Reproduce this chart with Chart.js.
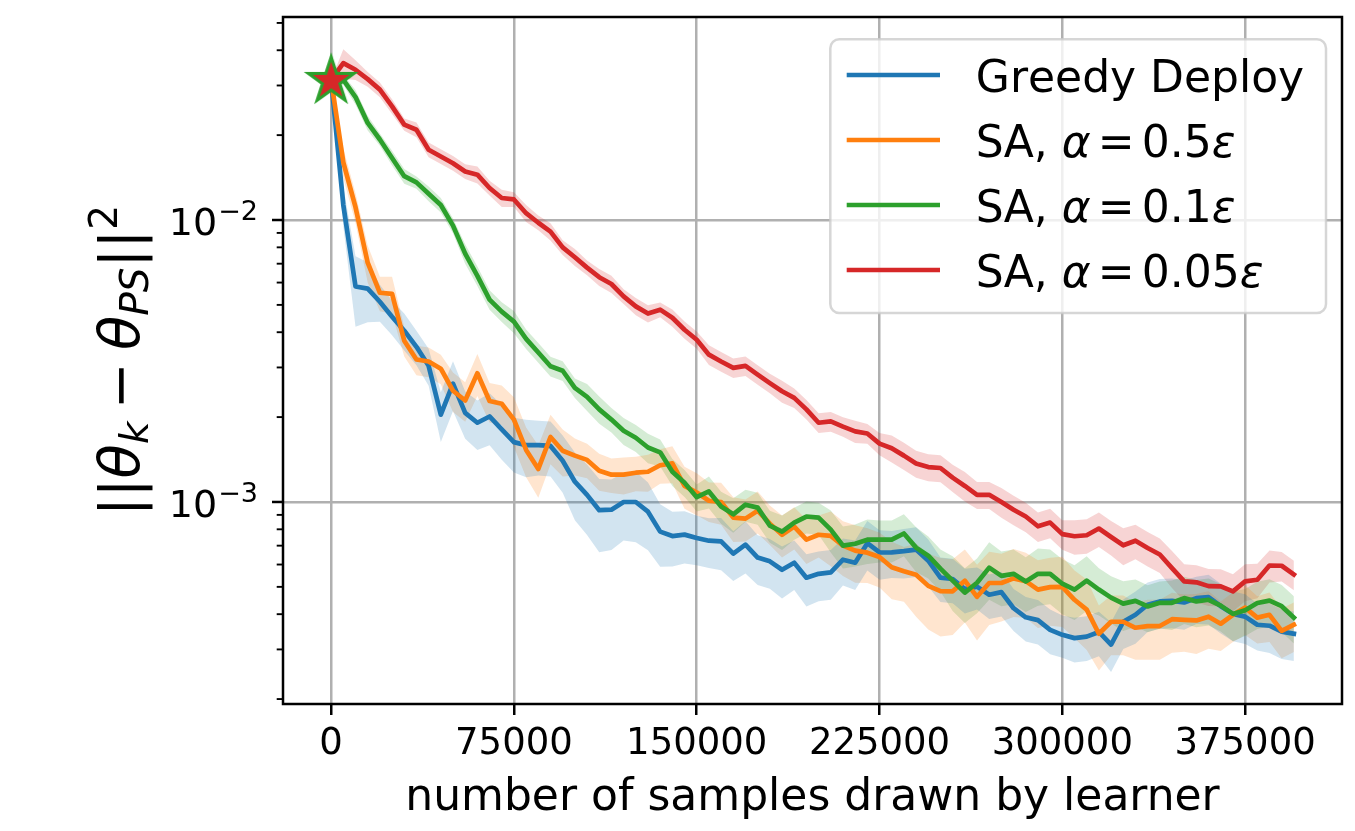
<!DOCTYPE html>
<html><head><meta charset="utf-8">
<script src="https://cdn.jsdelivr.net/npm/chart.js@4.4.1/dist/chart.umd.min.js"></script>
<style>html,body{margin:0;padding:0;background:#fff;}canvas{display:block;}</style>
</head><body>
<canvas id="c" width="1355" height="831"></canvas>
<script>
// ---------------- data ----------------
const samples = [0,5000,10000,15000,20000,25000,30000,35000,40000,45000,
 50000,55000,60000,65000,70000,75000,80000,85000,90000,95000,
 100000,105000,110000,115000,120000,125000,130000,135000,140000,145000,
 150000,155000,160000,165000,170000,175000,180000,185000,190000,195000,
 200000,205000,210000,215000,220000,225000,230000,235000,240000,245000,
 250000,255000,260000,265000,270000,275000,280000,285000,290000,295000,
 300000,305000,310000,315000,320000,325000,330000,335000,340000,345000,
 350000,355000,360000,365000,370000,375000,380000,385000,390000,395000];

const greedyDeploy = [0.0314,0.0113,0.00581,0.00571,0.00513,0.00454,0.00405,0.00355,0.00304,0.00204,
 0.00263,0.00207,0.00191,0.00201,0.00181,0.00163,0.00159,0.00159,0.00158,0.00140,
 0.00118,0.00106,0.000935,0.000939,0.00100,0.00100,0.000924,0.000785,0.000757,0.000766,
 0.000745,0.000729,0.000725,0.000656,0.000706,0.000635,0.000616,0.000575,0.000609,0.000539,
 0.000556,0.000563,0.000624,0.000609,0.000714,0.000662,0.000663,0.000669,0.000678,0.000619,
 0.000539,0.000533,0.000491,0.000501,0.000469,0.000479,0.000420,0.000390,0.000381,0.000352,
 0.000338,0.000329,0.000333,0.000346,0.000312,0.000376,0.000398,0.000432,0.000444,0.000446,
 0.000440,0.000456,0.000460,0.000427,0.000401,0.000392,0.000367,0.000364,0.000347,0.000341];

const sa05 = [0.0314,0.0160,0.0111,0.00706,0.00552,0.00547,0.00373,0.00320,0.00315,0.00297,
 0.00248,0.00229,0.00286,0.00228,0.00223,0.00196,0.00153,0.00131,0.00170,0.00152,
 0.00146,0.00141,0.00129,0.00125,0.00125,0.00127,0.00128,0.00135,0.00137,0.00114,
 0.00108,0.00101,0.00100,0.000880,0.000873,0.000931,0.000838,0.000765,0.000818,0.000735,
 0.000765,0.000758,0.000700,0.000672,0.000661,0.000638,0.000587,0.000568,0.000552,0.000504,
 0.000483,0.000482,0.000526,0.000461,0.000516,0.000516,0.000536,0.000524,0.000489,0.000499,
 0.000500,0.000450,0.000415,0.000341,0.000376,0.000376,0.000358,0.000363,0.000363,0.000384,
 0.000382,0.000380,0.000392,0.000370,0.000398,0.000422,0.000389,0.000398,0.000349,0.000367];

const sa01 = [0.0314,0.0314,0.0273,0.0221,0.0193,0.0166,0.0143,0.0136,0.0124,0.0113,
 0.00955,0.00760,0.00634,0.00522,0.00473,0.00436,0.00379,0.00339,0.00303,0.00292,
 0.00254,0.00236,0.00213,0.00196,0.00179,0.00169,0.00156,0.00150,0.00128,0.00117,
 0.00104,0.00109,0.000963,0.000904,0.000978,0.000955,0.000824,0.000785,0.000845,0.000888,
 0.000880,0.000798,0.000700,0.000711,0.000735,0.000735,0.000735,0.000773,0.000689,0.000645,
 0.000580,0.000526,0.000477,0.000517,0.000585,0.000547,0.000556,0.000522,0.000556,0.000556,
 0.000513,0.000489,0.000526,0.000489,0.000458,0.000436,0.000446,0.000426,0.000439,0.000439,
 0.000456,0.000444,0.000450,0.000429,0.000401,0.000413,0.000438,0.000447,0.000427,0.000389];

const sa005 = [0.0314,0.0360,0.0341,0.0316,0.0290,0.0253,0.0218,0.0209,0.01775,0.0168,
 0.0159,0.01487,0.01448,0.01299,0.01197,0.01183,0.01057,0.00978,0.00910,0.00800,
 0.00738,0.00678,0.00627,0.00593,0.00536,0.00494,0.00466,0.00481,0.00450,0.00408,
 0.00376,0.00333,0.00315,0.00299,0.00304,0.00283,0.00264,0.00247,0.00234,0.00213,
 0.00191,0.00193,0.00185,0.00178,0.00175,0.00161,0.00155,0.00146,0.00137,0.00133,
 0.00132,0.00122,0.00114,0.00106,0.00106,0.00100,0.000939,0.000888,0.000820,0.000845,
 0.000769,0.000756,0.000762,0.000805,0.000751,0.000702,0.000729,0.000687,0.000651,0.000583,
 0.000523,0.000519,0.000503,0.000502,0.000482,0.000523,0.000530,0.000595,0.000594,0.000553];

// relative spread (std / mean) of each shaded band
const greedySpread = [0,0.16,0.28,0.24,0.15,0.14,0.15,0.14,0.15,0.2,
 0.2,0.19,0.2,0.21,0.22,0.22,0.23,0.22,0.22,0.23,
 0.27,0.28,0.29,0.28,0.27,0.28,0.27,0.25,0.22,0.21,
 0.2,0.2,0.21,0.2,0.21,0.2,0.2,0.21,0.2,0.21,
 0.2,0.2,0.19,0.2,0.2,0.2,0.19,0.2,0.2,0.19,
 0.18,0.18,0.18,0.17,0.18,0.18,0.17,0.18,0.18,0.18,
 0.17,0.18,0.18,0.18,0.2,0.2,0.21,0.2,0.2,0.2,
 0.2,0.19,0.2,0.2,0.2,0.2,0.19,0.2,0.2,0.2];
const sa05Spread = [0,0.12,0.12,0.15,0.14,0.15,0.12,0.12,0.12,0.12,
 0.16,0.16,0.17,0.16,0.16,0.2,0.2,0.21,0.2,0.19,
 0.15,0.14,0.15,0.14,0.15,0.14,0.15,0.14,0.15,0.17,
 0.17,0.16,0.17,0.18,0.17,0.17,0.16,0.17,0.17,0.18,
 0.17,0.22,0.22,0.23,0.22,0.22,0.23,0.22,0.29,0.3,
 0.31,0.3,0.29,0.3,0.29,0.27,0.27,0.26,0.27,0.27,
 0.28,0.27,0.28,0.26,0.24,0.24,0.23,0.24,0.24,0.24,
 0.23,0.24,0.23,0.2,0.2,0.2,0.19,0.2,0.2,0.2];
const sa01Spread = [0,0.04,0.06,0.06,0.05,0.06,0.06,0.05,0.06,0.06,
 0.06,0.08,0.08,0.08,0.08,0.09,0.08,0.08,0.08,0.08,
 0.08,0.11,0.11,0.1,0.11,0.11,0.12,0.11,0.11,0.11,
 0.11,0.13,0.13,0.14,0.13,0.13,0.13,0.14,0.13,0.13,
 0.13,0.17,0.17,0.17,0.18,0.17,0.17,0.17,0.18,0.17,
 0.17,0.22,0.22,0.22,0.23,0.22,0.22,0.22,0.23,0.22,
 0.22,0.22,0.22,0.19,0.19,0.2,0.19,0.19,0.19,0.2,
 0.19,0.19,0.19,0.19,0.2,0.19,0.19,0.19,0.19,0.19];
const sa005Spread = [0,0.12,0.08,0.06,0.06,0.06,0.05,0.06,0.06,0.06,
 0.06,0.06,0.07,0.06,0.07,0.06,0.07,0.06,0.07,0.06,
 0.07,0.06,0.07,0.07,0.06,0.07,0.07,0.06,0.07,0.07,
 0.07,0.08,0.08,0.08,0.08,0.08,0.08,0.09,0.08,0.08,
 0.08,0.08,0.08,0.09,0.08,0.09,0.11,0.11,0.11,0.11,
 0.11,0.11,0.12,0.11,0.11,0.12,0.12,0.12,0.12,0.12,
 0.12,0.14,0.14,0.14,0.14,0.15,0.14,0.14,0.14,0.15,
 0.15,0.15,0.15,0.15,0.15,0.15,0.14,0.13,0.12,0.12];

const seriesNames = ['Greedy Deploy', 'SA, α = 0.5ε', 'SA, α = 0.1ε', 'SA, α = 0.05ε'];
const seriesColors = ['#1f77b4', '#ff7f0e', '#2ca02c', '#d62728'];
const bandColors = ['rgba(31,119,180,0.2)', 'rgba(255,127,14,0.2)', 'rgba(44,160,44,0.2)', 'rgba(214,39,40,0.2)'];
const startSample = [0];
const startValue = [0.0314];
const xTicks = [0, 75000, 150000, 225000, 300000, 375000];
const yMajorTicks = [1e-3, 1e-2];
const yMinorTicks = [2e-4,3e-4,4e-4,5e-4,6e-4,7e-4,8e-4,9e-4,2e-3,3e-3,4e-3,5e-3,6e-3,7e-3,8e-3,9e-3,2e-2,3e-2,4e-2,5e-2];
const yTickBase = ['10', '10'];
const yTickExp = ['−3', '−2'];
const xTitle = 'number of samples drawn by learner';

// ---------------- build ----------------
const FONT = '"DejaVu Sans"';
Chart.defaults.font.family = 'DejaVu Sans';
const means = [greedyDeploy, sa05, sa01, sa005];
const spreads = [greedySpread, sa05Spread, sa01Spread, sa005Spread];
const lineOrder = [3, 2, 1, 0];
const pts = arr => samples.map((s, i) => ({x: s, y: arr[i]}));

const datasets = [];
means.forEach((m, k) => {
  datasets.push({label: seriesNames[k] + ' low', data: pts(m.map((v, i) => v * (1 - spreads[k][i]))),
    borderColor: 'rgba(0,0,0,0)', borderWidth: 0, pointRadius: 0, fill: false, order: 20});
  datasets.push({label: seriesNames[k] + ' high', data: pts(m.map((v, i) => v * (1 + spreads[k][i]))),
    borderColor: 'rgba(0,0,0,0)', borderWidth: 0, pointRadius: 0, fill: '-1', backgroundColor: bandColors[k], order: 20});
});
means.forEach((m, k) => {
  datasets.push({label: seriesNames[k], data: pts(m), borderColor: seriesColors[k], borderWidth: 4.7,
    pointRadius: 0, fill: false, borderJoinStyle: 'round', borderCapStyle: 'square', order: lineOrder[k]});
});

// star marker image
const star = document.createElement('canvas');
star.width = 58; star.height = 58;
(function () {
  const c = star.getContext('2d');
  const R = 24, r = R * 0.381966, cx = 29, cy = 30;
  c.beginPath();
  for (let i = 0; i < 10; i++) {
    const rad = (i % 2 === 0) ? R : r;
    const ang = -Math.PI / 2 + i * Math.PI / 5;
    const px = cx + rad * Math.cos(ang), py = cy + rad * Math.sin(ang);
    if (i === 0) c.moveTo(px, py); else c.lineTo(px, py);
  }
  c.closePath();
  c.fillStyle = '#d62728'; c.fill();
  c.lineWidth = 3; c.strokeStyle = '#2ca02c'; c.lineJoin = 'miter'; c.stroke();
})();
datasets.push({label: 'start', data: startSample.map((s, i) => ({x: s, y: startValue[i]})),
  showLine: false, pointStyle: star, pointRadius: 12, order: -1});

function drawParts(ctx, parts, x0, baseY) {
  let x = x0;
  parts.forEach(p => {
    ctx.font = p.f;
    if (p.t) ctx.fillText(p.t, x, baseY + (p.dy || 0));
    x += (p.t ? ctx.measureText(p.t).width : 0) + (p.gap || 0);
  });
  return x;
}
function partsWidth(ctx, parts) {
  let w = 0;
  parts.forEach(p => { ctx.font = p.f; w += (p.t ? ctx.measureText(p.t).width : 0) + (p.gap || 0); });
  return w;
}
function mathParts(label, size) {
  const parts = [];
  const reg = size + 'px ' + FONT, ita = 'italic ' + size + 'px ' + FONT;
  const s = label.replace(' = ', '=');
  for (const ch of s) {
    if (ch === 'α' || ch === 'ε') parts.push({t: ch, f: ita});
    else if (ch === '=') { parts.push({t: '', f: reg, gap: size * 0.16}); parts.push({t: '=', f: reg, gap: size * 0.16}); }
    else parts.push({t: ch, f: reg});
  }
  return parts;
}

const decor = {
  id: 'decor',
  afterDraw(chart) {
    const {ctx, chartArea: a, scales: {y}} = chart;
    ctx.save();
    // spines
    ctx.strokeStyle = '#000'; ctx.lineWidth = 2.5;
    ctx.strokeRect(a.left, a.top, a.right - a.left, a.bottom - a.top);
    // y ticks
    ctx.lineCap = 'butt';
    yMajorTicks.forEach(v => {
      const p = y.getPixelForValue(v);
      ctx.lineWidth = 2.5; ctx.beginPath(); ctx.moveTo(a.left - 11, p); ctx.lineTo(a.left, p); ctx.stroke();
    });
    yMinorTicks.forEach(v => {
      const p = y.getPixelForValue(v);
      ctx.lineWidth = 1.9; ctx.beginPath(); ctx.moveTo(a.left - 6.3, p); ctx.lineTo(a.left, p); ctx.stroke();
    });
    // y tick labels (10^-n)
    ctx.fillStyle = '#000'; ctx.textBaseline = 'alphabetic'; ctx.textAlign = 'left';
    yMajorTicks.forEach((v, i) => {
      const p = y.getPixelForValue(v);
      const parts = [{t: yTickBase[i], f: '38px ' + FONT, gap: 1}, {t: yTickExp[i], f: '27px ' + FONT, dy: -14.5}];
      const w = partsWidth(ctx, parts);
      drawParts(ctx, parts, 258 - w, p + 14.7);
    });
    // x title
    ctx.font = '44px ' + FONT; ctx.textAlign = 'center';
    ctx.fillText(xTitle, (a.left + a.right) / 2, 810);
    ctx.textAlign = 'left';
    // y title
    const S = 56, reg = S + 'px ' + FONT, ita = 'italic ' + S + 'px ' + FONT;
    const sub = Math.round(S * 0.7) + 'px ' + FONT, subI = 'italic ' + Math.round(S * 0.7) + 'px ' + FONT;
    const yt = [
      {t: '||', f: reg}, {t: 'θ', f: ita}, {t: 'k', f: subI, dy: 9.2, gap: S * 0.22},
      {t: '−', f: reg, gap: S * 0.22}, {t: 'θ', f: ita}, {t: 'PS', f: subI, dy: 9.2},
      {t: '||', f: reg}, {t: '2', f: sub, dy: -21.8}
    ];
    ctx.save();
    ctx.translate(138.8, (a.top + a.bottom) / 2);
    ctx.rotate(-Math.PI / 2);
    const tw = partsWidth(ctx, yt);
    drawParts(ctx, yt, -tw / 2, 0);
    ctx.restore();
    // legend
    const bx = 830.3, by = 39.3, bw = 495.7, bh = 273.7;
    ctx.beginPath(); ctx.roundRect(bx, by, bw, bh, 9);
    ctx.fillStyle = 'rgba(255,255,255,0.8)'; ctx.fill();
    ctx.strokeStyle = 'rgba(204,204,204,0.8)'; ctx.lineWidth = 2.5; ctx.stroke();
    seriesNames.forEach((name, k) => {
      const ly = 75 + k * 65;
      ctx.strokeStyle = seriesColors[k]; ctx.lineWidth = 4.7; ctx.lineCap = 'butt';
      ctx.beginPath(); ctx.moveTo(846.7, ly); ctx.lineTo(940, ly); ctx.stroke();
      ctx.fillStyle = '#000';
      drawParts(ctx, mathParts(name, 44), 975.8, ly + 16.7);
    });
    ctx.restore();
  }
};

new Chart(document.getElementById('c'), {
  type: 'line',
  data: {datasets},
  options: {
    responsive: false, animation: false, devicePixelRatio: 1,
    layout: {padding: {left: 0, top: 17, right: 13, bottom: 0}},
    plugins: {legend: {display: false}, tooltip: {enabled: false}, filler: {drawTime: 'beforeDatasetsDraw'}},
    elements: {line: {tension: 0}},
    scales: {
      x: {
        type: 'linear', min: -19750, max: 414750,
        afterBuildTicks: s => { s.ticks = xTicks.map(v => ({value: v})); },
        afterFit: s => { s.height = 127; },
        grid: {color: '#b0b0b0', lineWidth: 2.5, drawTicks: true, tickLength: 11, tickColor: '#000', tickWidth: 2.5},
        border: {display: false},
        ticks: {autoSkip: false, maxRotation: 0, padding: 7, color: '#000', font: {size: 37, family: 'DejaVu Sans'},
          callback: v => String(v)}
      },
      y: {
        type: 'logarithmic', min: 1.921e-4, max: 0.05248,
        afterBuildTicks: s => { s.ticks = yMajorTicks.map(v => ({value: v})); },
        afterFit: s => { s.width = 283; },
        grid: {color: '#b0b0b0', lineWidth: 2.5, drawTicks: false},
        border: {display: false},
        ticks: {display: false}
      }
    }
  },
  plugins: [decor]
});
</script>
</body></html>
